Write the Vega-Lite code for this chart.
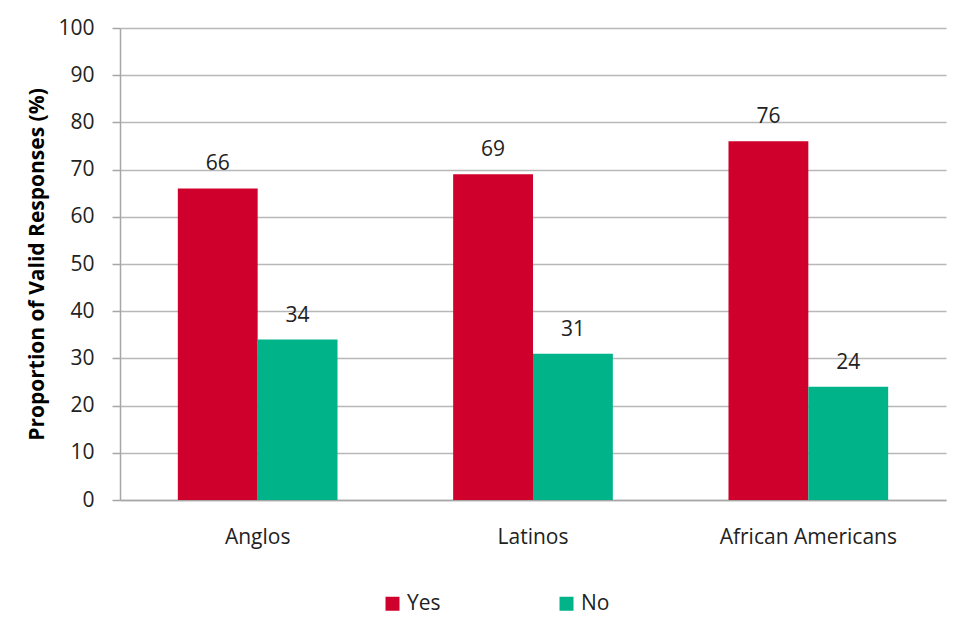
{
  "$schema": "https://vega.github.io/schema/vega-lite/v6.json",
  "autosize": {"type": "none"},
  "width": 826,
  "height": 472,
  "padding": {"left": 120, "top": 28, "right": 31, "bottom": 126},
  "background": "white",
  "config": {
    "font": "Open Sans",
    "view": {"stroke": null},
    "axis": {"labelFont": "Open Sans", "titleFont": "Open Sans"}
  },
  "data": {
    "values": [
      {"group": "Anglos", "response": "Yes", "value": 66},
      {"group": "Anglos", "response": "No", "value": 34},
      {"group": "Latinos", "response": "Yes", "value": 69},
      {"group": "Latinos", "response": "No", "value": 31},
      {"group": "African Americans", "response": "Yes", "value": 76},
      {"group": "African Americans", "response": "No", "value": 24}
    ]
  },
  "encoding": {
    "x": {
      "field": "group",
      "type": "nominal",
      "sort": ["Anglos", "Latinos", "African Americans"],
      "scale": {"paddingInner": 0.42, "paddingOuter": 0.21},
      "axis": {
        "title": null,
        "labelAngle": 0,
        "labelFontSize": 21,
        "labelColor": "#222222",
        "labelPadding": 26,
        "ticks": false,
        "domainColor": "#a6a6a6",
        "domainWidth": 1.5
      }
    },
    "xOffset": {"field": "response", "type": "nominal", "sort": ["Yes", "No"], "scale": {"paddingInner": 0, "paddingOuter": 0}},
    "y": {
      "field": "value",
      "type": "quantitative",
      "scale": {"domain": [0, 100]},
      "axis": {
        "title": "Proportion of Valid Responses (%)",
        "titleFontSize": 21,
        "titleFontWeight": "bold",
        "titleColor": "#000000",
        "titlePadding": 10,
        "values": [0, 10, 20, 30, 40, 50, 60, 70, 80, 90, 100],
        "labelOverlap": false,
        "labelFontSize": 21,
        "labelColor": "#222222",
        "labelPadding": 18,
        "tickSize": 8,
        "tickColor": "#a6a6a6",
        "tickWidth": 1.5,
        "domainColor": "#a6a6a6",
        "domainWidth": 1.5,
        "gridColor": "#b8b8b8",
        "gridWidth": 1.5
      }
    }
  },
  "layer": [
    {
      "mark": {"type": "bar"},
      "encoding": {
        "color": {
          "field": "response",
          "type": "nominal",
          "sort": ["Yes", "No"],
          "scale": {"domain": ["Yes", "No"], "range": ["#d0002d", "#00b388"]},
          "legend": {
            "title": null,
            "orient": "none",
            "direction": "horizontal",
            "legendX": 262,
            "legendY": 565,
            "symbolType": "square",
            "symbolSize": 196,
            "symbolStrokeWidth": 0,
            "labelFontSize": 21,
            "labelColor": "#222222",
            "labelOffset": 4,
            "columnPadding": 115
          }
        }
      }
    },
    {
      "mark": {"type": "text", "baseline": "middle", "dy": -24, "fontSize": 21, "color": "#222222"},
      "encoding": {
        "text": {"field": "value", "type": "quantitative"}
      }
    }
  ]
}
